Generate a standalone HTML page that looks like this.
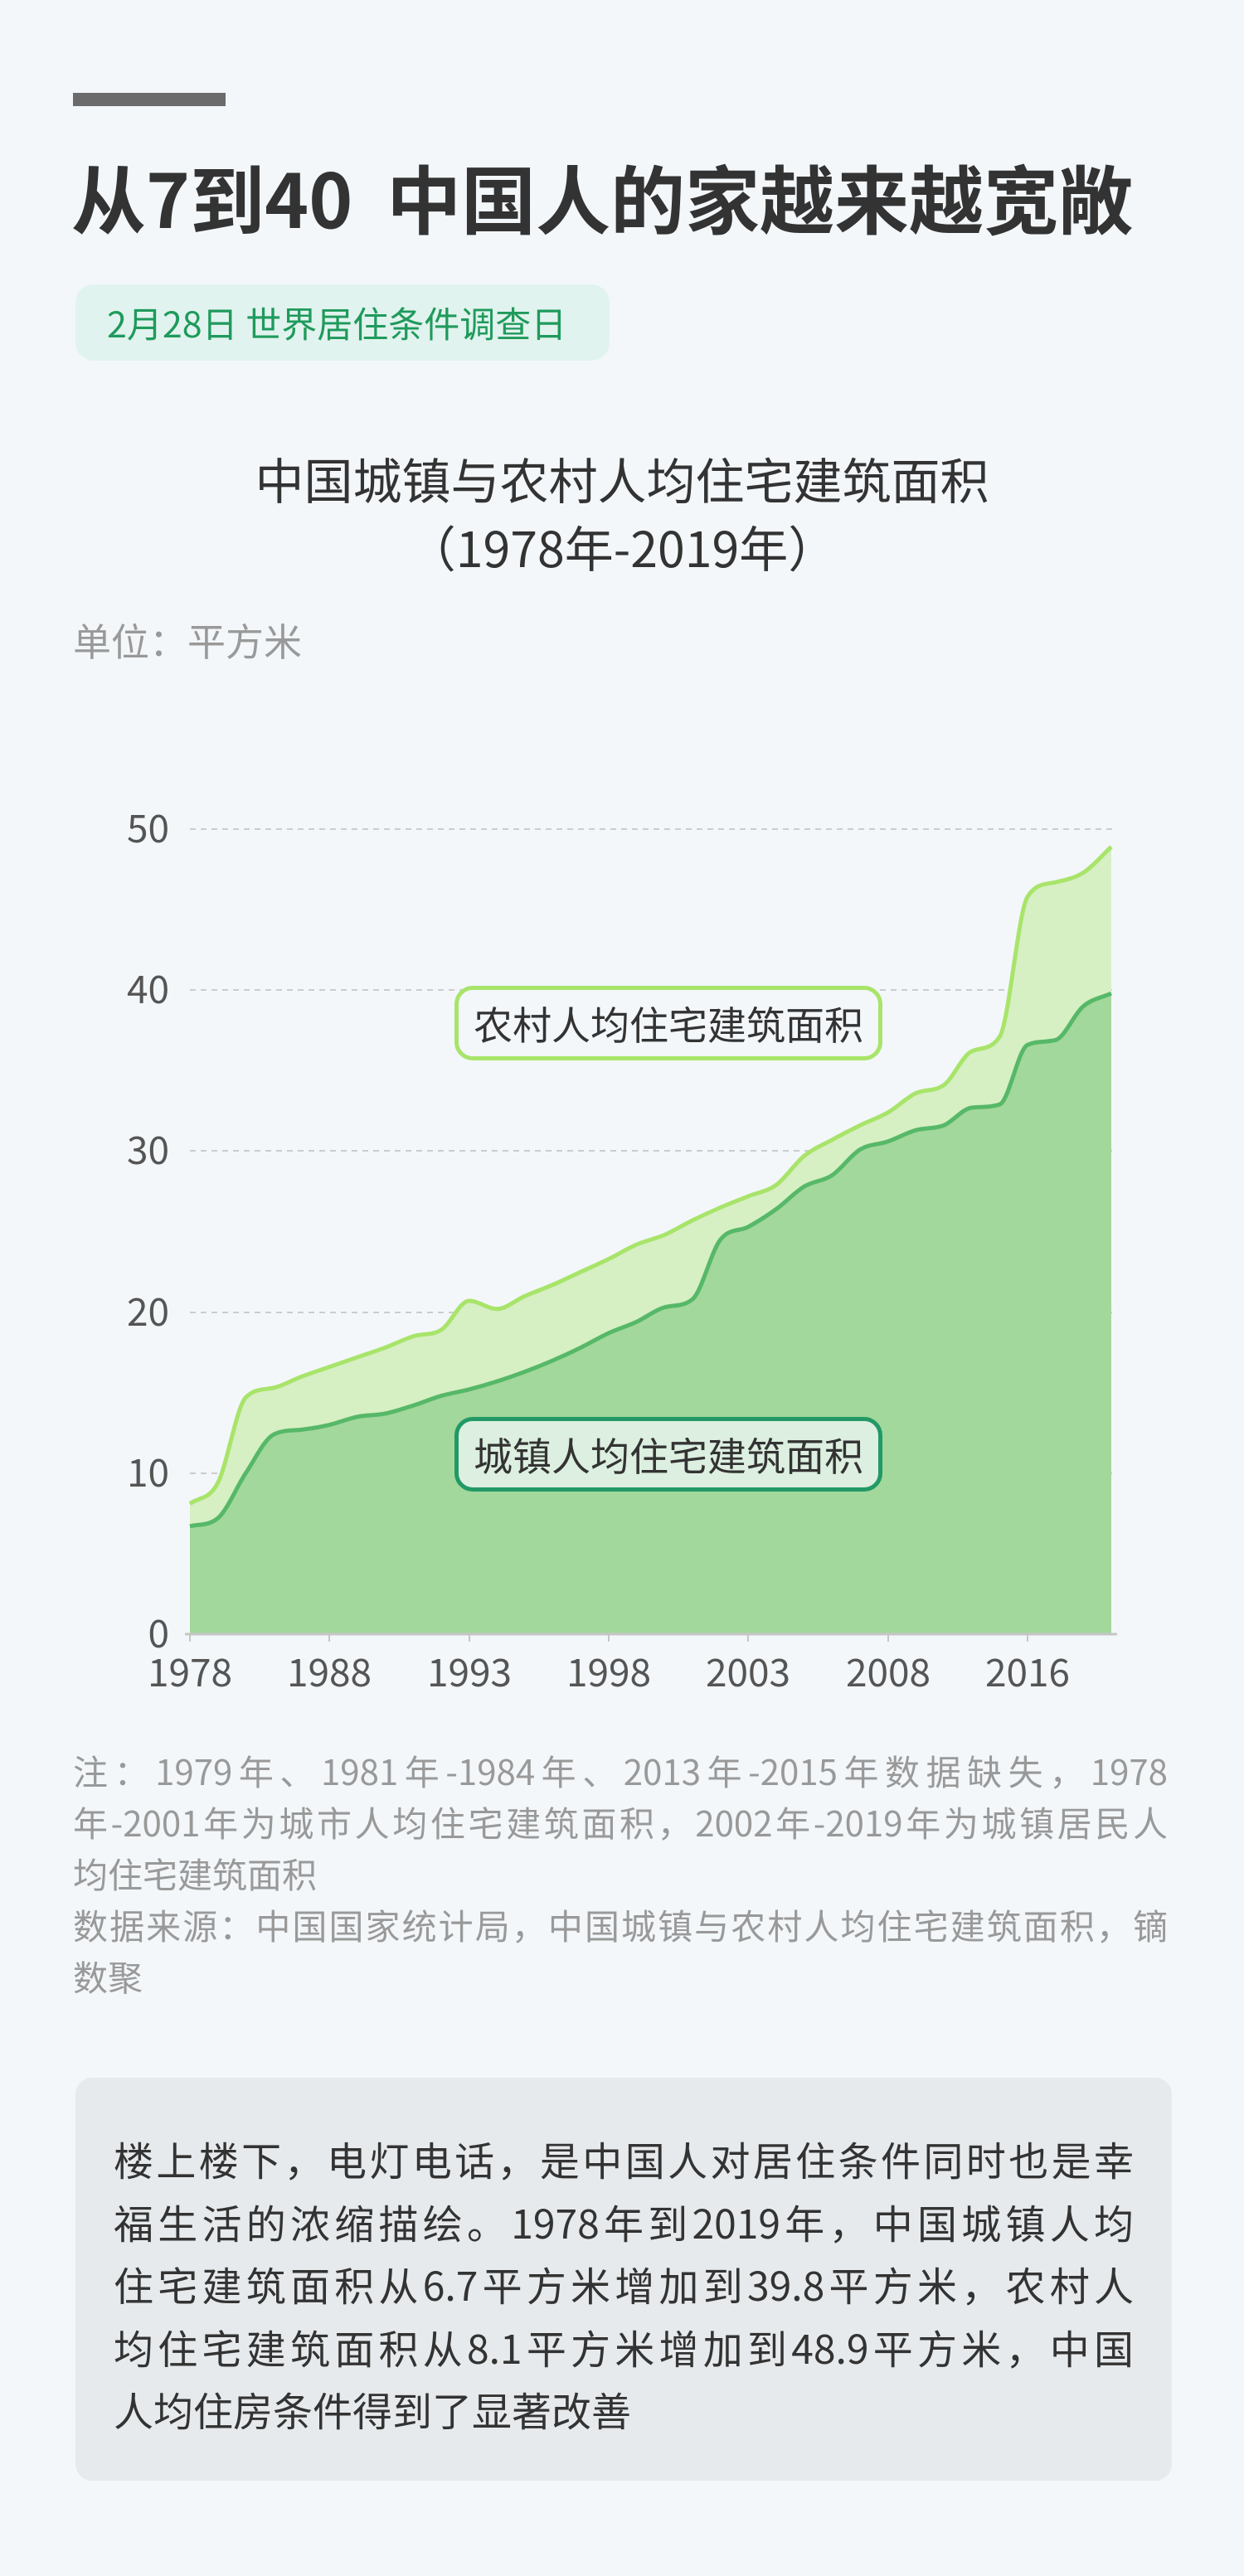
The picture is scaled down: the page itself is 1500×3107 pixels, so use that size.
<!DOCTYPE html>
<html><head><meta charset="utf-8">
<style>
html,body{margin:0;padding:0;}
body{width:1500px;height:3107px;background:#f3f7fa;position:relative;overflow:hidden;font-family:"Noto Sans CJK SC",sans-serif;}
.abs{position:absolute;}
.line{display:block;white-space:nowrap;text-align:justify;text-align-last:justify;}
</style></head><body>
<div class="abs" style="left:88px;top:112px;width:184px;height:16px;background:#6b6b6b"></div>
<div class="abs" style="left:86px;top:176px;font-size:90px;font-weight:bold;color:#333;line-height:120px;white-space:nowrap;font-family:'Noto Sans CJK SC',sans-serif">从7到40&nbsp;&nbsp;中国人的家越来越宽敞</div>
<div class="abs" style="left:91px;top:343px;width:644px;height:92px;border-radius:22px;background:#e1f3ee"></div>
<div class="abs" style="left:129px;top:360px;font-size:43px;line-height:58px;color:#1f9a5c;white-space:nowrap;font-family:'Noto Sans CJK SC',sans-serif">2月28日 世界居住条件调查日</div>
<div class="abs" style="left:0;width:1500px;top:536px;text-align:center;font-size:59px;line-height:82px;color:#333;font-family:'Noto Sans CJK SC',sans-serif">中国城镇与农村人均住宅建筑面积<br>（1978年-2019年）</div>
<div class="abs" style="left:88px;top:742px;font-size:46px;line-height:60px;color:#999;font-family:'Noto Sans CJK SC',sans-serif">单位：平方米</div>

<svg class="abs" style="left:0;top:0" width="1500" height="2100" viewBox="0 0 1500 2100">
<g stroke="#cccccc" stroke-width="2" stroke-dasharray="7 6">
<line x1="229" x2="1347" y1="1000" y2="1000"/>
<line x1="229" x2="1347" y1="1194" y2="1194"/>
<line x1="229" x2="1347" y1="1388" y2="1388"/>
<line x1="229" x2="1347" y1="1583" y2="1583"/>
<line x1="229" x2="1347" y1="1777" y2="1777"/>
</g>
<path id="rf" fill="#d6efc3"/>
<path id="uf" fill="#a2d89b"/>
<path id="rl" fill="none" stroke="#a8e46a" stroke-width="5" stroke-linejoin="round"/>
<path id="ul" fill="none" stroke="#56b868" stroke-width="5" stroke-linejoin="round"/>
<line x1="223" x2="1347" y1="1971" y2="1971" stroke="#c6c6c6" stroke-width="3"/>
<g stroke="#c6c6c6" stroke-width="2">
<line x1="229" x2="229" y1="1971" y2="1980"/><line x1="397" x2="397" y1="1971" y2="1980"/>
<line x1="566" x2="566" y1="1971" y2="1980"/><line x1="734" x2="734" y1="1971" y2="1980"/>
<line x1="902" x2="902" y1="1971" y2="1980"/><line x1="1071" x2="1071" y1="1971" y2="1980"/>
<line x1="1239" x2="1239" y1="1971" y2="1980"/>
</g>
<g font-family="Noto Sans CJK SC, sans-serif" font-size="46" fill="#555" text-anchor="end">
<text x="204" y="1016">50</text><text x="204" y="1210">40</text><text x="204" y="1404">30</text>
<text x="204" y="1599">20</text><text x="204" y="1793">10</text><text x="204" y="1987">0</text>
</g>
<g font-family="Noto Sans CJK SC, sans-serif" font-size="46" fill="#555" text-anchor="middle">
<text x="229" y="2034">1978</text><text x="397" y="2034">1988</text><text x="566" y="2034">1993</text>
<text x="734" y="2034">1998</text><text x="902" y="2034">2003</text><text x="1071" y="2034">2008</text>
<text x="1239" y="2034">2016</text>
</g>
</svg>

<div class="abs" style="left:548px;top:1189px;width:506px;height:80px;border:5px solid #a8e46a;border-radius:22px;background:#f3f7fa;text-align:center;font-size:47px;line-height:80px;white-space:nowrap;color:#333;font-family:'Noto Sans CJK SC',sans-serif">农村人均住宅建筑面积</div>
<div class="abs" style="left:548px;top:1709px;width:506px;height:80px;border:5px solid #229966;border-radius:22px;background:#dcefe0;text-align:center;font-size:47px;line-height:80px;white-space:nowrap;color:#333;font-family:'Noto Sans CJK SC',sans-serif">城镇人均住宅建筑面积</div>

<div class="abs" style="left:88px;top:2105px;width:1320px;font-size:42px;line-height:62px;color:#999;font-family:'Noto Sans CJK SC',sans-serif">
<span class="line">注：1979年、1981年-1984年、2013年-2015年数据缺失，1978</span>
<span class="line">年-2001年为城市人均住宅建筑面积，2002年-2019年为城镇居民人</span>
<span class="line" style="text-align-last:left">均住宅建筑面积</span>
<span class="line">数据来源：中国国家统计局，中国城镇与农村人均住宅建筑面积，镝</span>
<span class="line" style="text-align-last:left">数聚</span>
</div>

<div class="abs" style="left:91px;top:2506px;width:1322px;height:486px;border-radius:20px;background:#e7eaec"></div>
<div class="abs" style="left:137px;top:2566px;width:1230px;font-size:48px;line-height:75.5px;color:#333;font-family:'Noto Sans CJK SC',sans-serif">
<span class="line">楼上楼下，电灯电话，是中国人对居住条件同时也是幸</span>
<span class="line">福生活的浓缩描绘。1978年到2019年，中国城镇人均</span>
<span class="line">住宅建筑面积从6.7平方米增加到39.8平方米，农村人</span>
<span class="line">均住宅建筑面积从8.1平方米增加到48.9平方米，中国</span>
<span class="line" style="text-align-last:left">人均住房条件得到了显著改善</span>
</div>

<script>
var u=[6.7,7.2,10.0,12.4,12.7,13.0,13.5,13.7,14.2,14.8,15.2,15.7,16.3,17.0,17.8,18.7,19.4,20.3,20.8,24.5,25.3,26.4,27.8,28.5,30.1,30.6,31.3,31.6,32.7,32.9,36.6,36.9,39.0,39.8];
var r=[8.1,9.4,14.7,15.3,16.0,16.6,17.2,17.8,18.5,18.9,20.7,20.2,21.0,21.7,22.5,23.3,24.2,24.8,25.7,26.5,27.2,27.9,29.7,30.7,31.6,32.4,33.6,34.1,36.2,37.1,45.8,46.7,47.3,48.9];
function pts(a){return a.map(function(v,i){return [229+i*(1111/33),1971-v*19.42];});}
function mono(p){
 var n=p.length,d=[],m=[];
 for(var i=0;i<n-1;i++)d.push((p[i+1][1]-p[i][1])/(p[i+1][0]-p[i][0]));
 m[0]=d[0];m[n-1]=d[n-2];
 for(i=1;i<n-1;i++){m[i]=(d[i-1]*d[i]<=0)?0:(d[i-1]+d[i])/2;}
 for(i=0;i<n-1;i++){if(d[i]==0){m[i]=m[i+1]=0;continue;}var a=m[i]/d[i],b=m[i+1]/d[i],s=a*a+b*b;if(s>9){var t=3/Math.sqrt(s);m[i]=t*a*d[i];m[i+1]=t*b*d[i];}}
 var s="M"+p[0][0]+","+p[0][1];
 for(i=0;i<n-1;i++){var h=(p[i+1][0]-p[i][0])/3;
  s+=" C"+(p[i][0]+h)+","+(p[i][1]+m[i]*h)+" "+(p[i+1][0]-h)+","+(p[i+1][1]-m[i+1]*h)+" "+p[i+1][0]+","+p[i+1][1];}
 return s;}
var ru=mono(pts(r)),uu=mono(pts(u));
document.getElementById('rl').setAttribute('d',ru);
document.getElementById('ul').setAttribute('d',uu);
document.getElementById('rf').setAttribute('d',ru+" L1340,1971 L229,1971 Z");
document.getElementById('uf').setAttribute('d',uu+" L1340,1971 L229,1971 Z");
</script>
</body></html>
